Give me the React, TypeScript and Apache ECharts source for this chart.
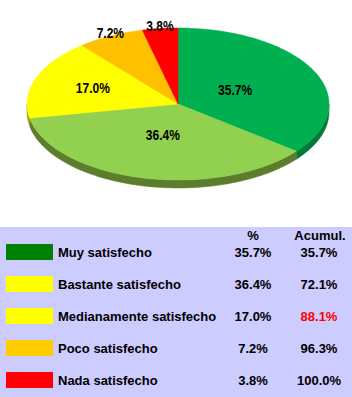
import React, { useEffect, useRef } from "react";
import * as echarts from "echarts";

const categories = [
  "Muy satisfecho",
  "Bastante satisfecho",
  "Medianamente satisfecho",
  "Poco satisfecho",
  "Nada satisfecho",
];
const percentages = [35.7, 36.4, 17.0, 7.2, 3.8];
const cumulative = [35.7, 72.1, 88.1, 96.3, 100.0];
const columnHeaders = ["%", "Acumul."];
const highlightedCumulativeIndex = 2;

const pieColors = ["#00B050", "#92D050", "#FFFF00", "#FFC000", "#FF0000"];
const pieSideColors = ["#007A38", "#5B7D2C", "#A3A300", "#B38600", "#A00000"];
const legendColors = ["#008000", "#FFFF00", "#FFFF00", "#FFCC00", "#FF0000"];

const CX = 178;
const CY = 104;
const RX = 151;
const RY = 76;
const DEPTH = 8;

const pt = (deg: number, f = 1, dy = 0): number[] => {
  const r = (deg * Math.PI) / 180;
  return [CX + RX * f * Math.sin(r), CY - RY * f * Math.cos(r) + dy];
};

const arcPoints = (a1: number, a2: number, dy = 0): number[][] => {
  const n = Math.max(2, Math.ceil((a2 - a1) / 1.5));
  const out: number[][] = [];
  for (let i = 0; i <= n; i++) out.push(pt(a1 + ((a2 - a1) * i) / n, 1, dy));
  return out;
};

const fmt = (v: number) => v.toFixed(1) + "%";

export default function App() {
  const ref = useRef<HTMLDivElement>(null);
  useEffect(() => {
    if (!ref.current) return;
    const chart = echarts.init(ref.current, null, { renderer: "svg" });
    const total = percentages.reduce((a, b) => a + b, 0);

    const renderItem = (params: any, api: any) => {
      const i = params.dataIndex;
      const v = api.value(0);
      let before = 0;
      for (let k = 0; k < i; k++) before += percentages[k];
      const a1 = (before / total) * 360;
      const a2 = ((before + v) / total) * 360;
      const children: any[] = [];
      const s1 = Math.max(a1, 90);
      const s2 = Math.min(a2, 270);
      if (s2 > s1) {
        const top = arcPoints(s1, s2, 0);
        const bot = arcPoints(s1, s2, DEPTH).reverse();
        children.push({
          type: "polygon",
          z2: 5,
          shape: { points: top.concat(bot) },
          style: { fill: pieSideColors[i], stroke: pieSideColors[i], lineWidth: 0.5 },
        });
      }
      children.push({
        type: "polygon",
        z2: 10,
        shape: { points: [[CX, CY]].concat(arcPoints(a1, a2, 0)) },
        style: { fill: pieColors[i], stroke: pieColors[i], lineWidth: 0.5 },
      });
      const pct = v / total;
      const mid = (a1 + a2) / 2;
      let lp: number[];
      if (pct < 0.1) lp = pt(mid, 1.0, -3);
      else if (pct < 0.3) lp = pt(mid, 0.6);
      else lp = pt(mid, 0.42);
      children.push({
        type: "text",
        z2: 100,
        x: lp[0],
        y: lp[1],
        scaleX: 0.8,
        style: {
          text: fmt(v),
          x: 0,
          y: 0,
          align: "center",
          verticalAlign: "middle",
          fill: "#000000",
          font: 'bold 15px "Liberation Sans", Arial, sans-serif',
        },
      });
      return { type: "group", children };
    };

    const tableFont = 'bold 13px "Liberation Sans", Arial, sans-serif';
    const rowY0 = 252;
    const rowStep = 32;
    const tableGraphics: any[] = [
      {
        type: "rect",
        shape: { x: 0, y: 227, width: 352, height: 170 },
        style: { fill: "#CCCCFF" },
        z: -10,
      },
      {
        type: "text",
        style: { text: columnHeaders[0], x: 253, y: 235, align: "center", verticalAlign: "middle", font: tableFont, fill: "#000" },
      },
      {
        type: "text",
        style: { text: columnHeaders[1], x: 320, y: 235, align: "center", verticalAlign: "middle", font: tableFont, fill: "#000" },
      },
    ];
    categories.forEach((c, i) => {
      const y = rowY0 + i * rowStep;
      tableGraphics.push(
        {
          type: "rect",
          shape: { x: 6, y: y - 8, width: 47, height: 16 },
          style: { fill: legendColors[i] },
        },
        {
          type: "text",
          style: { text: c, x: 58, y, align: "left", verticalAlign: "middle", font: tableFont, fill: "#000" },
        },
        {
          type: "text",
          style: { text: fmt(percentages[i]), x: 253, y, align: "center", verticalAlign: "middle", font: tableFont, fill: "#000" },
        },
        {
          type: "text",
          style: {
            text: fmt(cumulative[i]),
            x: 319,
            y,
            align: "center",
            verticalAlign: "middle",
            font: tableFont,
            fill: i === highlightedCumulativeIndex ? "#FF0000" : "#000",
          },
        }
      );
    });

    chart.setOption({
      animation: false,
      backgroundColor: "#FFFFFF",
      graphic: tableGraphics,
      series: [
        {
          type: "custom",
          coordinateSystem: "none",
          data: percentages.map((p) => [p]),
          renderItem,
        },
      ],
    });
    return () => chart.dispose();
  }, []);
  return (
    <div
      ref={ref}
      style={{ position: "absolute", left: 0, top: 0, width: 352, height: 397 }}
    />
  );
}
